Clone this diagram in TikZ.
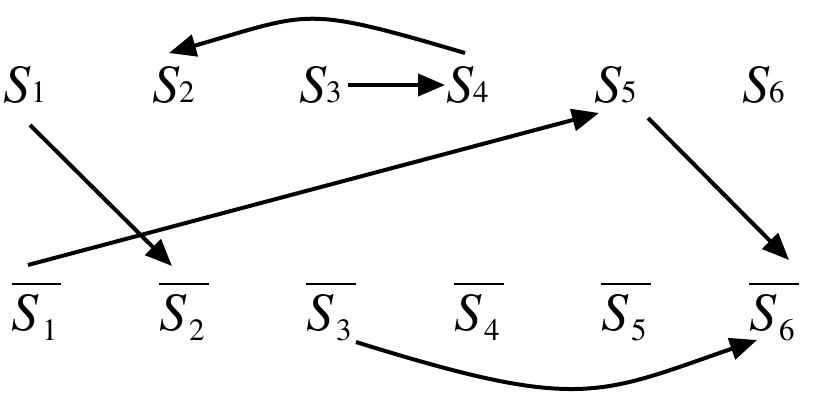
\documentclass[tikz,border=0pt]{standalone}
\usepackage{fontspec}
\setmainfont{texgyretermes}[Extension=.otf, UprightFont=*-regular, ItalicFont=*-italic]
\usetikzlibrary{arrows.meta}
\newcommand{\topS}[1]{{\fontsize{54}{54}\selectfont\itshape S}{\fontsize{31}{31}\selectfont #1}}
\newcommand{\botS}[1]{\vbox{\hrule height 2pt\kern 8.5pt\hbox{{\fontsize{54}{54}\selectfont\itshape S}\kern3pt\raisebox{-10pt}{\fontsize{31}{31}\selectfont #1}\kern4pt}}}
\tikzset{
  lab/.style={inner sep=0pt, outer sep=0pt, anchor=base west},
  arr/.style={line width=4pt, -{Triangle[length=27pt,width=22pt]}},
}
\begin{document}
\begin{tikzpicture}[x=1pt,y=-1pt]
\path[use as bounding box] (0,0) rectangle (813,405);
\node[lab] (t1) at (4,102) {\topS{1}};
\node[lab] (t2) at (152,102) {\topS{2}};
\node[lab] (t3) at (299,102) {\topS{3}};
\node[lab] (t4) at (446,102) {\topS{4}};
\node[lab] (t5) at (594,102) {\topS{5}};
\node[lab] (t6) at (742,102) {\topS{6}};
\node[lab] (b1) at (12,330) {\botS{1}};
\node[lab] (b2) at (159,330) {\botS{2}};
\node[lab] (b3) at (306,330) {\botS{3}};
\node[lab] (b4) at (454,330) {\botS{4}};
\node[lab] (b5) at (601,330) {\botS{5}};
\node[lab] (b6) at (749,330) {\botS{6}};
% S4 -> S2
\draw[arr] ([shift={(19,-49)}]t4.base west) .. controls (302,5) and (312,12) .. ([shift={(17,-49)}]t2.base west);
% S3 -> S4
\draw[arr] ([shift={(49,-17)}]t3.base west) -- ([shift={(-1,-17)}]t4.base west);
% S1 -> bar S2
\draw[arr] ([shift={(26,23)}]t1.base west) -- ([shift={(13,-64)}]b2.base west);
% bar S1 -> S5
\draw[arr] ([shift={(16,-65)}]b1.base west) -- ([shift={(5,11)}]t5.base west);
% S5 -> bar S6
\draw[arr] ([shift={(54,16)}]t5.base west) -- ([shift={(40,-70)}]b6.base west);
% bar S3 -> bar S6
\draw[arr] ([shift={(50,12)}]b3.base west) .. controls (580,412) and (598,395) .. ([shift={(8,10)}]b6.base west);
\end{tikzpicture}
\end{document}
